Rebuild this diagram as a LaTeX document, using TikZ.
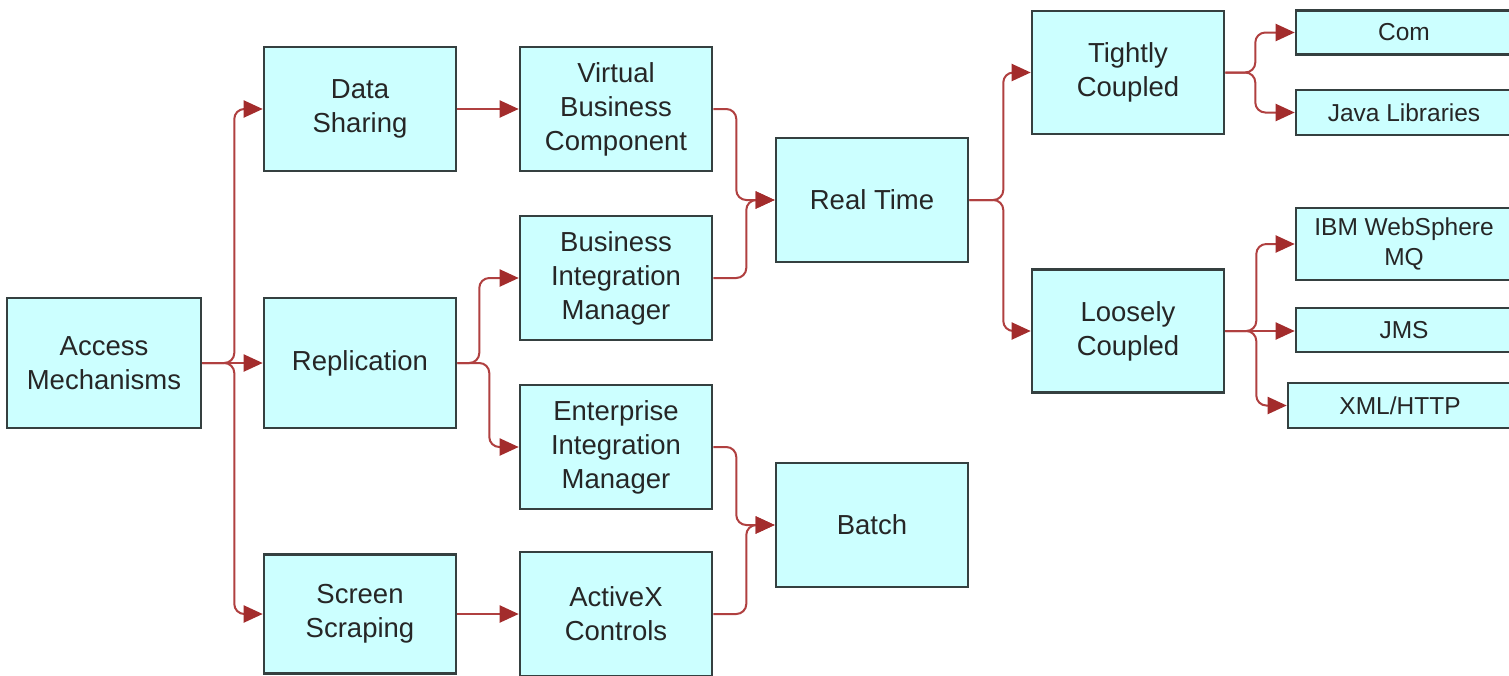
\documentclass[tikz,border=0pt]{standalone}
\usepackage{fontspec}
\setmainfont{Liberation Sans}
\usetikzlibrary{arrows.meta}
\definecolor{boxfill}{HTML}{CCFFFF}
\definecolor{boxline}{HTML}{354040}
\definecolor{txt}{HTML}{262626}
\definecolor{conn}{HTML}{B04040}
\definecolor{tipc}{HTML}{A32C2C}
\tikzset{
  bigbox/.style={draw=boxline, fill=boxfill, line width=2.6pt, minimum width=192pt,
    minimum height=124pt, inner sep=0pt, align=center, text=txt,
    font=\fontsize{27.5pt}{34pt}\selectfont},
  smallbox/.style={draw=boxline, fill=boxfill, line width=2.6pt, minimum width=216pt,
    minimum height=44pt, inner sep=0pt, align=center, text=txt,
    font=\fontsize{24.5pt}{29.5pt}\selectfont},
  link/.style={draw=conn, line width=2pt, rounded corners=10pt,
    -{Triangle[length=19pt,width=17pt,color=tipc]}},
}
\begin{document}
\begin{tikzpicture}[x=1pt,y=-1pt]
\clip (0,0) rectangle (1509,675);
\fill[white] (0,0) rectangle (1509,675);
% column 1
\node[bigbox, minimum width=194pt, minimum height=130pt] (am) at (104,363) {Access\\Mechanisms};
% column 2
\node[bigbox] (ds) at (360,109) {Data\\Sharing};
\node[bigbox, minimum height=130pt] (rep) at (360,363) {Replication};
\node[bigbox, minimum height=119pt] (ss) at (360,614) {Screen\\Scraping};
% column 3
\node[bigbox] (vbc) at (616,109) {Virtual\\Business\\Component};
\node[bigbox] (bim) at (616,278) {Business\\Integration\\Manager};
\node[bigbox] (eim) at (616,447) {Enterprise\\Integration\\Manager};
\node[bigbox] (ax) at (616,614) {ActiveX\\Controls};
% column 4
\node[bigbox] (rt) at (872,200) {Real Time};
\node[bigbox] (batch) at (872,525) {Batch};
% column 5
\node[bigbox, minimum height=123pt] (tc) at (1128,72.5) {Tightly\\Coupled};
\node[bigbox, minimum height=123pt] (lc) at (1128,331) {Loosely\\Coupled};
% column 6
\node[smallbox] (com) at (1404,32.5) {Com};
\node[smallbox, minimum height=45pt] (java) at (1404,112.5) {Java Libraries};
\node[smallbox, minimum height=72pt] (ibm) at (1404,244) {IBM WebSphere\\MQ};
\node[smallbox] (jms) at (1404,330) {JMS};
\node[smallbox, minimum width=224pt, minimum height=45pt] (xml) at (1400,405.5) {XML/HTTP};
% connectors
\draw[link] (am.east) -- ++(32,0) |- (ds.west);
\draw[link] (am.east) -- (rep.west);
\draw[link] (am.east) -- ++(32,0) |- (ss.west);
\draw[link] (ds.east) -- (vbc.west);
\draw[link] (rep.east) -- ++(22,0) |- (bim.west);
\draw[link] (rep.east) -- ++(32,0) |- (eim.west);
\draw[link] (ss.east) -- (ax.west);
\draw[link] (vbc.east) -- ++(23,0) |- (rt.west);
\draw[link] (bim.east) -- ++(33,0) |- (rt.west);
\draw[link] (eim.east) -- ++(23,0) |- (batch.west);
\draw[link] (ax.east) -- ++(33,0) |- (batch.west);
\draw[link] (rt.east) -- ++(34,0) |- (tc.west);
\draw[link] (rt.east) -- ++(34,0) |- (lc.west);
\draw[link] (tc.east) -- ++(30,0) |- (com.west);
\draw[link] (tc.east) -- ++(30,0) |- (java.west);
\draw[link] (lc.east) -- ++(31,0) |- (ibm.west);
\draw[link] (lc.east) -- (lc.east -| jms.west);
\draw[link] (lc.east) -- ++(31,0) |- (xml.west);
\end{tikzpicture}
\end{document}
